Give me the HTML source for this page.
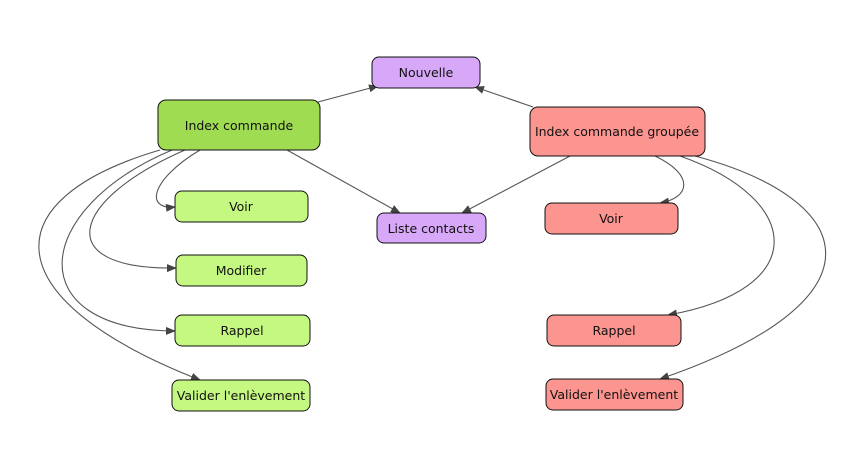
<!DOCTYPE html>
<html><head><style>
body{margin:0;background:#fff;width:868px;height:469px;overflow:hidden}
</style></head><body>
<svg width="868" height="469" xmlns="http://www.w3.org/2000/svg" font-family="DejaVu Sans, sans-serif" font-size="12.5">
<defs><marker id="a" markerWidth="10" markerHeight="8" refX="9" refY="4" orient="auto" markerUnits="userSpaceOnUse"><path d="M0,0 L10,4 L0,8z" fill="#444"/></marker></defs>
<g stroke="#555" stroke-width="1.1" fill="none" marker-end="url(#a)">
<path d="M318,102 L378,86"/>
<path d="M533,107 L475,87"/>
<path d="M287,150 L400,213"/>
<path d="M570,156 L462,213"/>
<path d="M200,150 C150,180 145,210 175,207"/>
<path d="M185,150 C70,200 50,270 176,268"/>
<path d="M172,150 C30,210 20,330 175,331"/>
<path d="M160,150 C-10,200 -5,300 200,380"/>
<path d="M655,156 C695,175 690,198 660,203"/>
<path d="M680,156 C805,200 810,290 668,315"/>
<path d="M695,156 C860,200 890,300 660,379"/>
</g>
<g stroke="#111" stroke-width="1">
<rect x="372" y="57" width="108" height="31" rx="7" fill="#d8a8f8"/>
<rect x="158" y="100" width="162" height="50" rx="8" fill="#a0dc52"/>
<rect x="530" y="107" width="175" height="49" rx="8" fill="#fc9490"/>
<rect x="175" y="191" width="133" height="31" rx="7" fill="#c4f880"/>
<rect x="377" y="213" width="109" height="30" rx="7" fill="#d8a8f8"/>
<rect x="545" y="203" width="133" height="31" rx="7" fill="#fc9490"/>
<rect x="176" y="255" width="131" height="31" rx="7" fill="#c4f880"/>
<rect x="175" y="315" width="135" height="31" rx="7" fill="#c4f880"/>
<rect x="547" y="315" width="134" height="31" rx="7" fill="#fc9490"/>
<rect x="172" y="380" width="138" height="31" rx="7" fill="#c4f880"/>
<rect x="546" y="379" width="137" height="31" rx="7" fill="#fc9490"/>
</g>
<g fill="#111" text-anchor="middle">
<text x="426" y="77">Nouvelle</text>
<text x="239" y="130">Index commande</text>
<text x="617" y="136">Index commande groupée</text>
<text x="241" y="211">Voir</text>
<text x="431" y="233">Liste contacts</text>
<text x="611" y="223">Voir</text>
<text x="241" y="275">Modifier</text>
<text x="242" y="335">Rappel</text>
<text x="614" y="335">Rappel</text>
<text x="241" y="400">Valider l'enlèvement</text>
<text x="614" y="399">Valider l'enlèvement</text>
</g>
</svg>
</body></html>
